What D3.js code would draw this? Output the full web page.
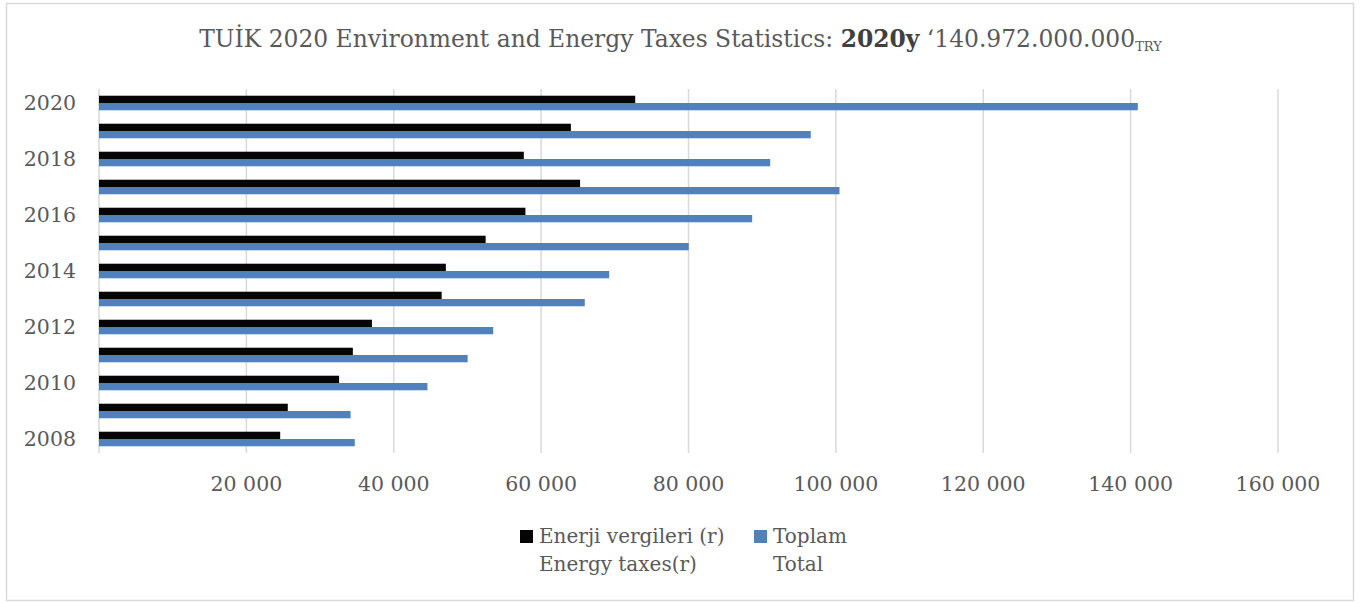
<!DOCTYPE html>
<html>
<head>
<meta charset="utf-8">
<script src="https://cdn.jsdelivr.net/npm/d3@7"></script>
<style>
  body { margin: 0; background: #fff; }
  svg text { font-family: "DejaVu Serif", "Liberation Serif", serif; fill: #595959; }
</style>
</head>
<body>
<div id="chart"></div>
<script>
// data (million TRY)
var years = ["2008", "2009", "2010", "2011", "2012", "2013", "2014", "2015", "2016", "2017", "2018", "2019", "2020"];
var energyTaxes = [24590, 25620, 32580, 34450, 37040, 46500, 47070, 52470, 57870, 65290, 57650, 64040, 72770];
var totalTaxes = [34710, 34140, 44570, 50030, 53500, 65920, 69240, 80030, 88640, 100490, 91085, 96590, 140972];
var xTicks = [20000, 40000, 60000, 80000, 100000, 120000, 140000, 160000];
var yLabels = ["2020", "2018", "2016", "2014", "2012", "2010", "2008"];

var keys = ["energy", "total"];
var colors = { energy: "#050505", total: "#4f81bd" };

var width = 1361, height = 603;
var margin = { top: 89, right: 83, bottom: 150, left: 99 };

var data = years.map(function (y, i) {
  return { year: y, energy: energyTaxes[i], total: totalTaxes[i] };
});

var svg = d3.select("#chart")
  .append("svg")
  .attr("width", width)
  .attr("height", height);

// outer border
svg.append("rect")
  .attr("x", 6.5).attr("y", 3.5)
  .attr("width", 1347).attr("height", 597)
  .attr("fill", "#fff")
  .attr("stroke", "#d9d9d9")
  .attr("stroke-width", 1.5);

var xScale = d3.scaleLinear()
  .domain([0, 160000])
  .range([margin.left, width - margin.right]);

var yScale = d3.scaleBand()
  .domain(years.slice().reverse())
  .range([margin.top, height - margin.bottom]);

var y1Scale = d3.scaleBand()
  .domain(keys)
  .range([yScale.bandwidth() * 0.24, yScale.bandwidth() * 0.76]);

// gridlines
svg.append("g")
  .selectAll("line")
  .data(xTicks)
  .join("line")
  .attr("x1", function (d) { return xScale(d); })
  .attr("x2", function (d) { return xScale(d); })
  .attr("y1", margin.top)
  .attr("y2", height - margin.bottom)
  .attr("stroke", "#d9d9d9")
  .attr("stroke-width", 1.5);

// category axis line
svg.append("line")
  .attr("x1", xScale(0)).attr("x2", xScale(0))
  .attr("y1", margin.top).attr("y2", height - margin.bottom)
  .attr("stroke", "#d9d9d9")
  .attr("stroke-width", 1.5);

// bars
svg.append("g")
  .selectAll("g")
  .data(data)
  .join("g")
  .attr("transform", function (d) { return "translate(0," + yScale(d.year) + ")"; })
  .selectAll("rect")
  .data(function (d) { return keys.map(function (k) { return { key: k, value: d[k] }; }); })
  .join("rect")
  .attr("x", xScale(0))
  .attr("y", function (d) { return y1Scale(d.key); })
  .attr("width", function (d) { return xScale(d.value) - xScale(0); })
  .attr("height", y1Scale.bandwidth())
  .attr("fill", function (d) { return colors[d.key]; });

// x axis labels
var fmt = function (v) { return d3.format(",")(v).replace(/,/g, " "); };
svg.append("g")
  .selectAll("text")
  .data(xTicks)
  .join("text")
  .attr("x", function (d) { return xScale(d); })
  .attr("y", 491)
  .attr("text-anchor", "middle")
  .attr("font-size", 20.5)
  .text(fmt);

// y axis labels
svg.append("g")
  .selectAll("text")
  .data(yLabels)
  .join("text")
  .attr("x", 76)
  .attr("y", function (d) { return yScale(d) + yScale.bandwidth() / 2; })
  .attr("dy", "0.36em")
  .attr("text-anchor", "end")
  .attr("font-size", 20.5)
  .text(function (d) { return d; });

// title
var title = svg.append("text")
  .attr("x", width / 2)
  .attr("y", 47)
  .attr("text-anchor", "middle")
  .attr("font-size", 23.4);
title.append("tspan").text("TUİK 2020 Environment and Energy Taxes Statistics: ");
title.append("tspan").attr("font-weight", "bold").style("fill", "#404040").text("2020y");
title.append("tspan").text(" ‘140.972.000.000");
title.append("tspan").attr("font-size", 13).attr("dy", 4).text("TRY");

// legend
var legendItems = [
  { key: "energy", x: 520, lines: ["Enerji vergileri (r)", "Energy taxes(r)"] },
  { key: "total", x: 754, lines: ["Toplam", "Total"] }
];
var legend = svg.append("g")
  .selectAll("g")
  .data(legendItems)
  .join("g")
  .attr("transform", function (d) { return "translate(" + d.x + ",0)"; });

legend.append("rect")
  .attr("x", 0).attr("y", 530)
  .attr("width", 13).attr("height", 13)
  .attr("fill", function (d) { return colors[d.key]; });

legend.append("text")
  .attr("x", 19)
  .attr("y", 543)
  .attr("font-size", 20)
  .selectAll("tspan")
  .data(function (d) { return d.lines; })
  .join("tspan")
  .attr("x", 19)
  .attr("dy", function (d, i) { return i === 0 ? 0 : 28; })
  .text(function (d) { return d; });
</script>
</body>
</html>
